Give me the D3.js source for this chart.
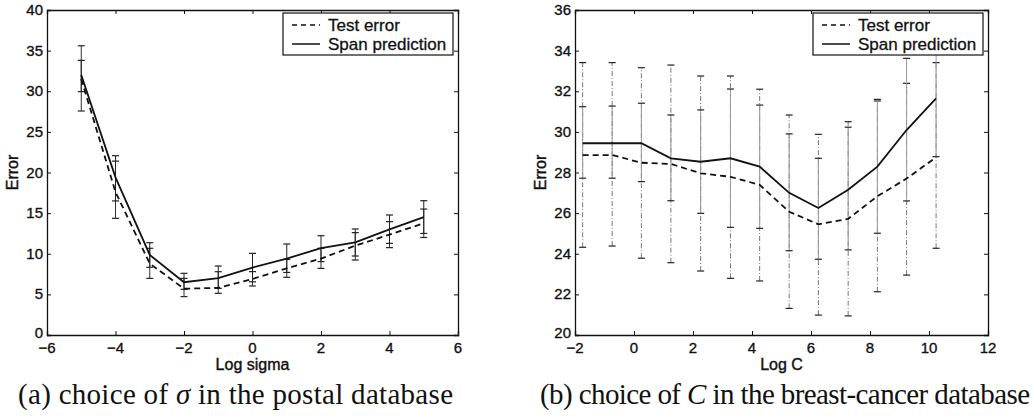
<!DOCTYPE html>
<html>
<head>
<meta charset="utf-8">
<script src="https://cdn.jsdelivr.net/npm/d3@7"></script>
<style>
  html, body { margin: 0; padding: 0; background: #fff; }
  svg { display: block; }
  .tick-label { font-family: "Liberation Sans", Arial, sans-serif; font-size: 15px; fill: #111; stroke: #111; stroke-width: 0.35px; }
  .axis-label { font-family: "Liberation Sans", Arial, sans-serif; font-size: 16px; fill: #111; stroke: #111; stroke-width: 0.4px; }
  .legend-text { font-family: "Liberation Sans", Arial, sans-serif; font-size: 17px; fill: #111; stroke: #111; stroke-width: 0.3px; }
  .caption { font-family: "Liberation Serif", "Times New Roman", serif; font-size: 29px; fill: #111; }
</style>
</head>
<body>
<svg id="chart" width="1034" height="418"></svg>
<script>
// ---------- Panel (a): choice of sigma in the postal database ----------
const leftX = [-5, -4, -3, -2, -1, 0, 1, 2, 3, 4, 5];
const leftTest   = [31.5, 17.6, 8.8, 5.7, 5.8, 6.9, 8.2, 9.4, 11.0, 12.35, 13.75];
const leftTestLo = [27.57, 14.36, 6.97, 4.72, 5.13, 6.03, 7.1, 8.2, 9.23, 10.75, 12.0];
const leftTestHi = [35.6, 21.4, 10.67, 6.97, 7.79, 7.8, 9.3, 10.67, 12.6, 13.95, 15.5];
const leftSpan   = [32.0, 19.4, 9.85, 6.5, 7.0, 8.3, 9.4, 10.7, 11.4, 13.0, 14.5];
const leftSpanLo = [29.95, 16.5, 8.33, 5.62, 5.74, 6.55, 7.7, 9.03, 9.72, 11.28, 12.5];
const leftSpanHi = [33.8, 22.07, 11.36, 7.59, 8.49, 10.05, 11.2, 12.22, 13.05, 14.77, 16.53];
const leftXTicks = [-6, -4, -2, 0, 2, 4, 6];
const leftYTicks = [0, 5, 10, 15, 20, 25, 30, 35, 40];

// ---------- Panel (b): choice of C in the breast-cancer database ----------
const rightX = [-1.74, -0.74, 0.25, 1.25, 2.26, 3.27, 4.26, 5.26, 6.25, 7.26, 8.25, 9.24, 10.24];
const rightTest   = [28.86, 28.86, 28.48, 28.42, 27.96, 27.79, 27.39, 26.07, 25.45, 25.72, 26.83, 27.7, 28.75];
const rightTestLo = [24.32, 24.38, 23.78, 23.56, 23.15, 22.79, 22.66, 21.31, 20.98, 20.94, 22.13, 22.95, 24.27];
const rightTestHi = [33.41, 33.41, 33.16, 33.29, 32.75, 32.75, 32.10, 30.83, 29.88, 30.50, 31.52, 32.39, 33.41];
const rightSpan   = [29.44, 29.44, 29.44, 28.70, 28.53, 28.70, 28.29, 27.0, 26.25, 27.15, 28.29, 30.09, 31.65];
const rightSpanLo = [27.72, 27.72, 27.55, 26.61, 25.99, 25.30, 25.25, 24.15, 23.73, 24.19, 25.01, 26.60, 28.78];
const rightSpanHi = [31.24, 31.27, 31.41, 30.83, 31.08, 32.11, 31.32, 29.90, 28.70, 30.23, 31.60, 33.62, 34.5];
const rightXTicks = [-2, 0, 2, 4, 6, 8, 10, 12];
const rightYTicks = [20, 22, 24, 26, 28, 30, 32, 34, 36];

const legendLabels = ["Test error", "Span prediction"];

const svg = d3.select("#chart");
const fmt = d => (d < 0 ? "\u2212" + Math.abs(d) : String(d));

function panel(o) {
  const x = d3.scaleLinear().domain(o.xDomain).range(o.xRange);
  const y = d3.scaleLinear().domain(o.yDomain).range(o.yRange);
  const g = svg.append("g");
  const [x0, x1] = o.xRange, [y0, y1] = o.yRange; // y0 bottom, y1 top

  // axes with inward ticks on all four sides (Matlab style)
  const tk = 4;
  g.append("g").attr("transform", `translate(0,${y0})`)
    .call(d3.axisBottom(x).tickValues(o.xTicks).tickSize(-tk).tickFormat(""));
  g.append("g").attr("transform", `translate(0,${y1})`)
    .call(d3.axisTop(x).tickValues(o.xTicks).tickSize(-tk).tickFormat(""));
  g.append("g").attr("transform", `translate(${x0},0)`)
    .call(d3.axisLeft(y).tickValues(o.yTicks).tickSize(-tk).tickFormat(""));
  g.append("g").attr("transform", `translate(${x1},0)`)
    .call(d3.axisRight(y).tickValues(o.yTicks).tickSize(-tk).tickFormat(""));
  g.selectAll(".domain").attr("stroke", "#111").attr("stroke-width", 1.3);
  g.selectAll(".tick line").attr("stroke", "#111").attr("stroke-width", 1);

  // tick labels
  g.selectAll(".xl").data(o.xTicks).join("text")
    .attr("class", "tick-label").attr("text-anchor", "middle")
    .attr("x", d => x(d)).attr("y", y0 + 18).text(fmt);
  g.selectAll(".yl").data(o.yTicks).join("text")
    .attr("class", "tick-label").attr("text-anchor", "end")
    .attr("x", x0 - 4).attr("y", d => y(d) + (d === o.yDomain[0] ? 3 : 5)).text(fmt);

  // axis labels
  g.append("text").attr("class", "axis-label").attr("text-anchor", "middle")
    .attr("x", (x0 + x1) / 2).attr("y", y0 + 35).text(o.xLabel);
  g.append("text").attr("class", "axis-label").attr("text-anchor", "middle")
    .attr("transform", `translate(${x0 - 29},${(y0 + y1) / 2}) rotate(-90)`).text("Error");

  // error bars
  const cap = 3.5;
  function bars(xs, lo, hi, color, dash, width) {
    const idx = d3.range(xs.length);
    g.selectAll(null).data(idx).join("line")
      .attr("x1", i => x(xs[i])).attr("x2", i => x(xs[i]))
      .attr("y1", i => y(lo[i])).attr("y2", i => y(hi[i]))
      .attr("stroke", color).attr("stroke-width", width)
      .attr("stroke-dasharray", dash);
    [lo, hi].forEach(arr => {
      g.selectAll(null).data(idx).join("line")
        .attr("x1", i => x(xs[i]) - cap).attr("x2", i => x(xs[i]) + cap)
        .attr("y1", i => y(arr[i])).attr("y2", i => y(arr[i]))
        .attr("stroke", "#222").attr("stroke-width", 1.2);
    });
  }
  bars(o.xs, o.testLo, o.testHi, o.barColorTest, o.barDashTest, 1);
  bars(o.xs, o.spanLo, o.spanHi, o.barColorSpan, null, 1);

  const line = d3.line().x(d => x(d[0])).y(d => y(d[1]));
  g.append("path").datum(o.xs.map((v, i) => [v, o.test[i]]))
    .attr("d", line).attr("fill", "none").attr("stroke", "#111")
    .attr("stroke-width", 1.8).attr("stroke-dasharray", "6,4");
  g.append("path").datum(o.xs.map((v, i) => [v, o.span[i]]))
    .attr("d", line).attr("fill", "none").attr("stroke", "#111")
    .attr("stroke-width", 1.8);

  // legend
  const lx = x1 - 175, ly = y1 + 3, lw = 170, lh = 42;
  g.append("rect").attr("x", lx).attr("y", ly).attr("width", lw).attr("height", lh)
    .attr("fill", "#fff").attr("stroke", "#111").attr("stroke-width", 1.2);
  legendLabels.forEach((lab, i) => {
    const cy = ly + 12 + i * 19;
    g.append("line").attr("x1", lx + 9).attr("x2", lx + 37).attr("y1", cy).attr("y2", cy)
      .attr("stroke", "#111").attr("stroke-width", 1.5)
      .attr("stroke-dasharray", i === 0 ? "5,4" : null);
    g.append("text").attr("class", "legend-text").attr("x", lx + 45).attr("y", cy + 6).text(lab);
  });
}

panel({
  xDomain: [-6, 6], xRange: [47, 458], yDomain: [0, 40], yRange: [335, 10],
  xTicks: leftXTicks, yTicks: leftYTicks, xLabel: "Log sigma",
  xs: leftX, test: leftTest, testLo: leftTestLo, testHi: leftTestHi,
  span: leftSpan, spanLo: leftSpanLo, spanHi: leftSpanHi,
  barColorTest: "#333", barDashTest: null, barColorSpan: "#222"
});
panel({
  xDomain: [-2, 12], xRange: [575, 988], yDomain: [20, 36], yRange: [335, 10],
  xTicks: rightXTicks, yTicks: rightYTicks, xLabel: "Log C",
  xs: rightX, test: rightTest, testLo: rightTestLo, testHi: rightTestHi,
  span: rightSpan, spanLo: rightSpanLo, spanHi: rightSpanHi,
  barColorTest: "#777", barDashTest: "5,2,1,2", barColorSpan: "#999"
});

// captions
const capA = svg.append("text").attr("class", "caption").attr("x", 18).attr("y", 404)
  .attr("textLength", 435).attr("lengthAdjust", "spacing");
capA.append("tspan").text("(a) choice of ");
capA.append("tspan").attr("font-style", "italic").text("\u03c3");
capA.append("tspan").text(" in the postal database");
const capB = svg.append("text").attr("class", "caption").attr("x", 540).attr("y", 404)
  .attr("textLength", 490).attr("lengthAdjust", "spacing");
capB.append("tspan").text("(b) choice of ");
capB.append("tspan").attr("font-style", "italic").text("C");
capB.append("tspan").text(" in the breast-cancer database");
</script>
</body>
</html>
